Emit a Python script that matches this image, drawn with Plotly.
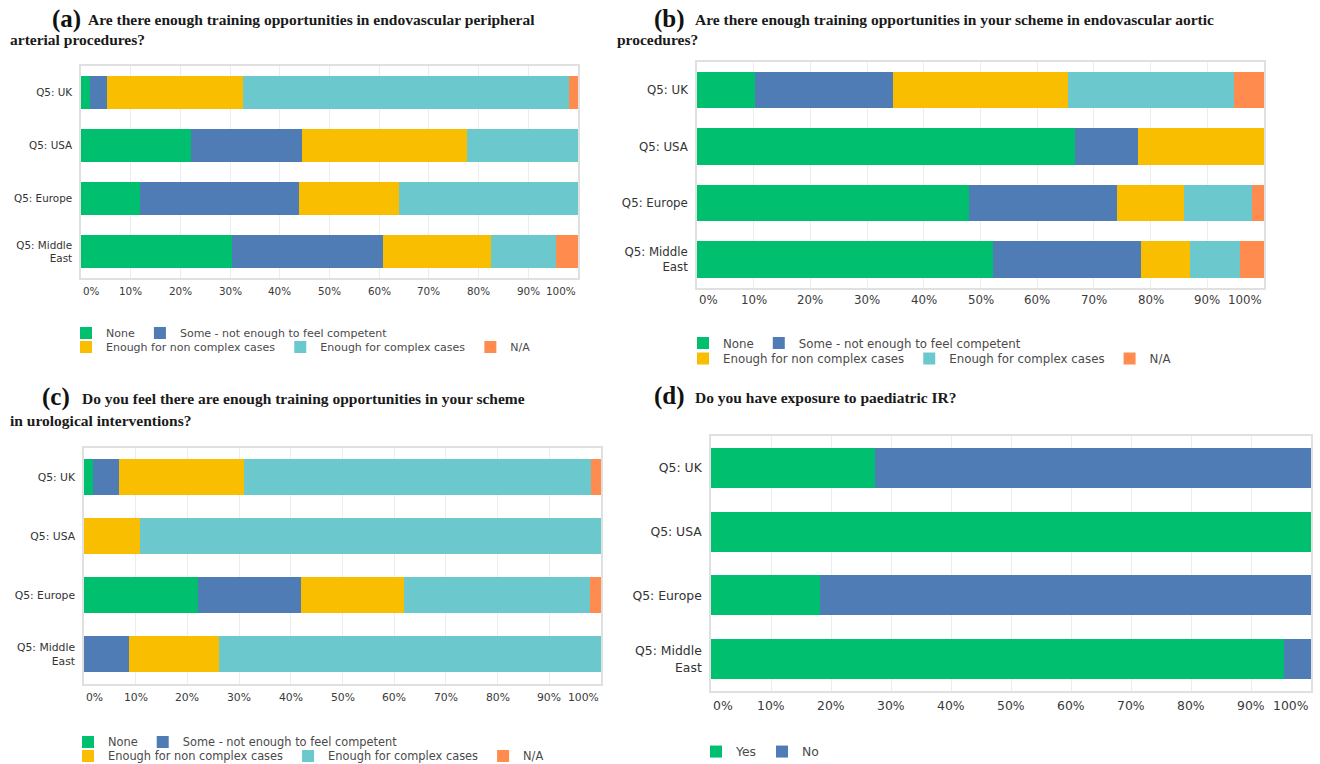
import plotly.graph_objects as go

W, H = 1320, 764

CATEGORIES = ["Q5: UK", "Q5: USA", "Q5: Europe", "Q5: Middle<br>East"]
TICKS = [0, 10, 20, 30, 40, 50, 60, 70, 80, 90, 100]

TRAINING_LEVELS = [
    "None",
    "Some - not enough to feel competent",
    "Enough for non complex cases",
    "Enough for complex cases",
    "N/A",
]
EXPOSURE_LEVELS = ["Yes", "No"]

# (a) endovascular peripheral arterial procedures, % of respondents
PERIPHERAL_NONE = [1.8, 22.2, 11.9, 30.4]
PERIPHERAL_SOME = [3.4, 22.2, 31.9, 30.3]
PERIPHERAL_NON_COMPLEX = [27.4, 33.3, 20.1, 21.7]
PERIPHERAL_COMPLEX = [65.6, 22.3, 36.1, 13.1]
PERIPHERAL_NA = [1.8, 0, 0, 4.5]

# (b) endovascular aortic procedures
AORTIC_NONE = [10.2, 66.7, 48.0, 52.2]
AORTIC_SOME = [24.3, 11.1, 26.0, 26.1]
AORTIC_NON_COMPLEX = [30.9, 22.2, 11.9, 8.7]
AORTIC_COMPLEX = [29.3, 0, 12.0, 8.7]
AORTIC_NA = [5.3, 0, 2.1, 4.3]

# (c) urological interventions
UROLOGY_NONE = [1.8, 0, 22.0, 0]
UROLOGY_SOME = [5.0, 0, 19.9, 8.7]
UROLOGY_NON_COMPLEX = [24.2, 10.9, 20.0, 17.4]
UROLOGY_COMPLEX = [67.0, 89.1, 36.0, 73.9]
UROLOGY_NA = [2.0, 0, 2.1, 0]

# (d) exposure to paediatric IR
PAEDIATRIC_YES = [27.4, 100, 18.1, 95.5]
PAEDIATRIC_NO = [72.6, 0, 81.9, 4.5]

TRAINING_COLORS = ["#00BF6F", "#507CB6", "#F9BE00", "#6BC8CD", "#FF8B4F"]
EXPOSURE_COLORS = ["#00BF6F", "#507CB6"]

SANS = "DejaVu Sans"
SERIF = "Liberation Serif"


def px_x(l, r):
    return [l / W, r / W]


def px_y(top, bottom):
    return [1 - bottom / H, 1 - top / H]


# panel geometry in pixels and per-panel text sizes
PANELS = [
    dict(ax="", x=(81, 578), y=(65.7, 278.4), width=0.626, text=10.4, legend_size=11,
         legends=[("legend", 333, 66, TRAINING_LEVELS[:2]), ("legend2", 347, 66, TRAINING_LEVELS[2:])],
         tick_shift=12.5),
    dict(ax="2", x=(697, 1264), y=(61.75, 287.75), width=0.64, text=11.8, legend_size=11.8,
         legends=[("legend3", 343, 683, TRAINING_LEVELS[:2]), ("legend4", 358.5, 683, TRAINING_LEVELS[2:])],
         tick_shift=12.5),
    dict(ax="3", x=(84, 601), y=(447.5, 683.5), width=0.61, text=10.8, legend_size=11.4,
         legends=[("legend5", 742, 68, TRAINING_LEVELS[:2]), ("legend6", 756, 68, TRAINING_LEVELS[2:])],
         tick_shift=13.5),
    dict(ax="4", x=(711, 1311), y=(436, 691), width=0.628, text=12.4, legend_size=12.4,
         legends=[("legend7", 752, 696, EXPOSURE_LEVELS)],
         tick_shift=14),
]

SERIES = [
    (TRAINING_LEVELS, TRAINING_COLORS,
     [PERIPHERAL_NONE, PERIPHERAL_SOME, PERIPHERAL_NON_COMPLEX, PERIPHERAL_COMPLEX, PERIPHERAL_NA]),
    (TRAINING_LEVELS, TRAINING_COLORS,
     [AORTIC_NONE, AORTIC_SOME, AORTIC_NON_COMPLEX, AORTIC_COMPLEX, AORTIC_NA]),
    (TRAINING_LEVELS, TRAINING_COLORS,
     [UROLOGY_NONE, UROLOGY_SOME, UROLOGY_NON_COMPLEX, UROLOGY_COMPLEX, UROLOGY_NA]),
    (EXPOSURE_LEVELS, EXPOSURE_COLORS, [PAEDIATRIC_YES, PAEDIATRIC_NO]),
]

fig = go.Figure()
annotations = []
layout = dict(
    width=W, height=H,
    margin=dict(l=0, r=0, t=0, b=0, autoexpand=False),
    paper_bgcolor="white", plot_bgcolor="white",
    barmode="stack",
    font=dict(family=SANS, color="#333333"),
)

for panel, (levels, colors, values) in zip(PANELS, SERIES):
    ax = panel["ax"]
    legend_for = {}
    for name, _, _, members in panel["legends"]:
        for m in members:
            legend_for[m] = name
    for level, color, vals in zip(levels, colors, values):
        fig.add_trace(go.Bar(
            x=vals, y=CATEGORIES, orientation="h", name=level,
            marker=dict(color=color, line=dict(width=0)),
            width=panel["width"],
            xaxis="x" + ax, yaxis="y" + ax,
            legend=legend_for[level],
            hovertemplate="%{y}: %{x:.1f}%<extra>" + level + "</extra>",
        ))

    layout["xaxis" + ax] = dict(
        domain=px_x(*panel["x"]), anchor="y" + ax, range=[0, 100],
        tickvals=TICKS, showticklabels=False, showgrid=True,
        gridcolor="#ededed", gridwidth=1, zeroline=False,
        showline=True, linecolor="#e0e0e0", linewidth=1.5, mirror=True,
        fixedrange=True,
    )
    layout["yaxis" + ax] = dict(
        domain=px_y(*panel["y"]), anchor="x" + ax,
        categoryorder="array", categoryarray=CATEGORIES,
        range=[3.5, -0.5], showgrid=False, zeroline=False,
        showline=True, linecolor="#e0e0e0", linewidth=1.5, mirror=True,
        tickfont=dict(size=panel["text"], color="#333333", family=SANS),
        ticklabelstandoff=5,
        fixedrange=True,
    )

    # percentage labels along the bottom edge (end labels kept inside the frame)
    for t in TICKS:
        anchor = "left" if t == 0 else ("right" if t == 100 else "center")
        annotations.append(dict(
            x=t, y=0, xref="x" + ax, yref=("y" + ax) + " domain",
            text=f"{t}%", showarrow=False, xanchor=anchor, yanchor="middle",
            yshift=-panel["tick_shift"],
            font=dict(size=panel["text"], color="#3a3a3a", family=SANS),
        ))

    for name, ycenter, xleft, _ in panel["legends"]:
        layout[name] = dict(
            orientation="h", x=xleft / W, xanchor="left",
            y=1 - ycenter / H, yanchor="middle",
            traceorder="normal",
            font=dict(size=panel["legend_size"], color="#4a4a4a", family=SANS),
            bgcolor="rgba(0,0,0,0)", itemwidth=30, tracegroupgap=0,
            itemclick=False, itemdoubleclick=False,
        )

# panel headings
TITLES = [
    ("(a)", 50, 19, "Are there enough training opportunities in endovascular peripheral", 86,
     "arterial procedures?", 8, 40),
    ("(b)", 652, 19, "Are there enough training opportunities in your scheme in endovascular aortic", 693,
     "procedures?", 615, 40),
    ("(c)", 40, 397, "Do you feel there are enough training opportunities in your scheme", 80,
     "in urological interventions?", 8, 420),
    ("(d)", 652, 396, "Do you have exposure to paediatric IR?", 693, None, None, None),
]

for label, lx, ly, line1, tx, line2, l2x, l2y in TITLES:
    annotations.append(dict(
        x=lx / W, y=1 - ly / H, xref="paper", yref="paper", text=f"<b>{label}</b>",
        showarrow=False, xanchor="left", yanchor="middle",
        font=dict(family=SERIF, size=25, color="#111111"),
    ))
    annotations.append(dict(
        x=tx / W, y=1 - (ly + 1) / H, xref="paper", yref="paper", text=f"<b>{line1}</b>",
        showarrow=False, xanchor="left", yanchor="middle",
        font=dict(family=SERIF, size=15.5, color="#1a1a1a"),
    ))
    if line2:
        annotations.append(dict(
            x=l2x / W, y=1 - l2y / H, xref="paper", yref="paper", text=f"<b>{line2}</b>",
            showarrow=False, xanchor="left", yanchor="middle",
            font=dict(family=SERIF, size=15.5, color="#1a1a1a"),
        ))

layout["annotations"] = annotations
fig.update_layout(**layout)

fig.write_html("out.html")
